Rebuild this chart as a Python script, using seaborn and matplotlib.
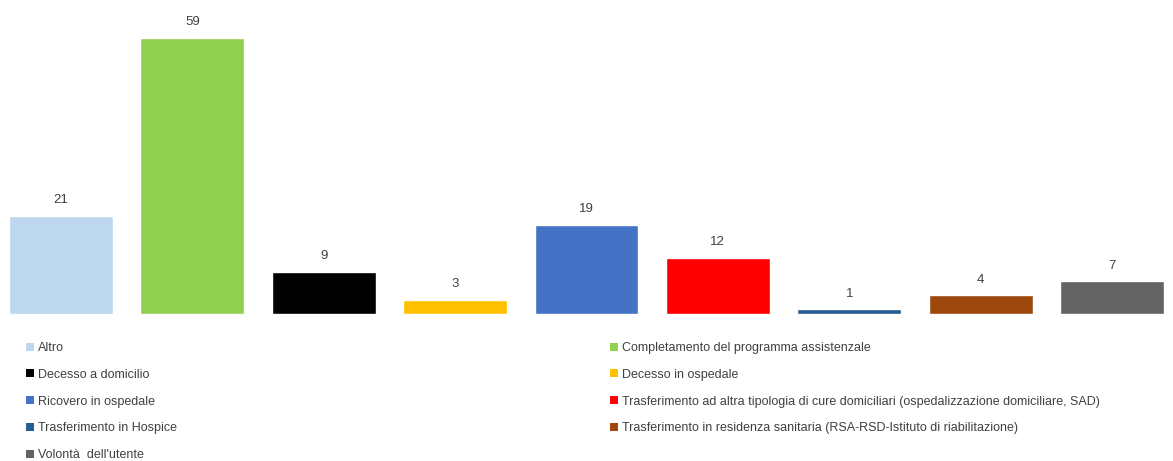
import matplotlib
matplotlib.use("Agg")
import matplotlib.pyplot as plt
from matplotlib.patches import Patch
import seaborn as sns
import pandas as pd

categories = [
    "Altro",
    "Completamento del programma assistenzale",
    "Decesso a domicilio",
    "Decesso in ospedale",
    "Ricovero in ospedale",
    "Trasferimento ad altra tipologia di cure domiciliari (ospedalizzazione domiciliare, SAD)",
    "Trasferimento in Hospice",
    "Trasferimento in residenza sanitaria (RSA-RSD-Istituto di riabilitazione)",
    "Volontà  dell'utente",
]
values = [21, 59, 9, 3, 19, 12, 1, 4, 7]
colors = ["#BDD7EE", "#92D050", "#000000", "#FFC000", "#4472C4",
          "#FF0000", "#255E91", "#9E480E", "#636363"]

sns.set_style("white")
plt.rcParams['font.family'] = ['Liberation Sans', 'DejaVu Sans']

df = pd.DataFrame({"motivo": categories, "n": values})
palette = dict(zip(categories, colors))

fig = plt.figure(figsize=(11.73, 4.61), dpi=100)
ax = fig.add_axes([-0.004, 0.319, 1.008, 0.659])

sns.barplot(data=df, x="motivo", y="n", hue="motivo", palette=palette,
            order=categories, hue_order=categories, dodge=False,
            width=0.79, legend=False, saturation=1, ax=ax)

for c in ax.containers:
    ax.bar_label(c, fmt="%d", padding=7, fontsize=9.5, color="#404040")

ax.set_ylim(0, 65)
ax.set_xlim(-0.5, len(categories) - 0.5)
ax.set_xticks([])
ax.set_yticks([])
ax.set_xlabel("")
ax.set_ylabel("")
sns.despine(ax=ax, left=True, bottom=True)

handles = [Patch(facecolor=col, edgecolor="none") for col in colors]
legend_kw = dict(frameon=False, fontsize=9, handlelength=0.6, handleheight=0.6,
                 handletextpad=0.35, labelspacing=1.18, borderaxespad=0,
                 borderpad=0, labelcolor="#404040", loc="upper left")

left_idx = [0, 2, 4, 6, 8]
right_idx = [1, 3, 5, 7]
fig.legend([handles[i] for i in left_idx], [categories[i] for i in left_idx],
           bbox_to_anchor=(26 / 1173, 1 - 342 / 461), **legend_kw)
fig.legend([handles[i] for i in right_idx], [categories[i] for i in right_idx],
           bbox_to_anchor=(610 / 1173, 1 - 342 / 461), **legend_kw)

fig.savefig("out.png", dpi=100)
